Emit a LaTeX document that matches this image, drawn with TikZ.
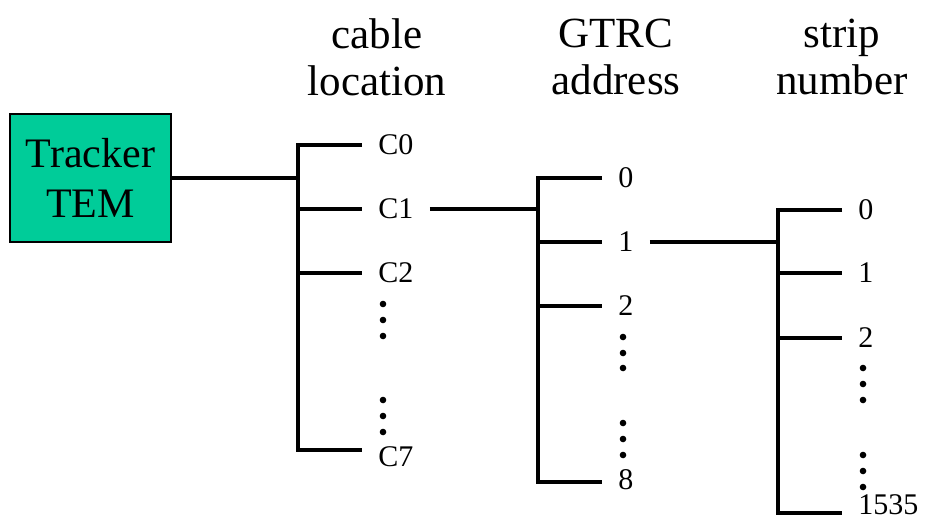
\documentclass[tikz,border=0pt]{standalone}
\usepackage{fontspec}
\setmainfont{Liberation Serif}
\usepackage{xcolor}
\usepackage{tikz}
\definecolor{temgreen}{HTML}{00CC99}

\tikzset{
  wire/.style={line width=1.6pt},
  lab/.style={anchor=west,inner xsep=8pt,inner ysep=0pt,font=\fontsize{15}{18}\selectfont},
  head/.style={align=center,inner sep=0pt,font=\fontsize{21.5}{23.5}\selectfont},
  dotmark/.style={fill=black}
}

\begin{document}
\begin{tikzpicture}[x=0.5pt,y=-0.5pt]
  \useasboundingbox (0,0) rectangle (925,525);

  % column headings
  \node[head] (hcable) at (377,57) {cable\\location};
  \node[head] (hgtrc)  at (616,57) {GTRC\\address};
  \node[head] (hstrip) at (842,57) {strip\\number};

  \node[draw=black,line width=0.7pt,fill=temgreen,minimum width=80.5pt,minimum height=64pt,
        align=center,font=\fontsize{21}{25}\selectfont] (tem) at (90.5,178) {Tracker\\TEM};

  % trunk positions
  \coordinate (tr1) at (298,0);
  \coordinate (tr2) at (538,0);
  \coordinate (tr3) at (778,0);
  \coordinate (cbot) at (298,450);
  \coordinate (gbot) at (538,482);
  \coordinate (sbot) at (778,513);

  % cable location
  \node[lab] (c0) at (362,145) {C0};
  \node[lab] (c1) at (362,209) {C1};
  \node[lab] (c2) at (362,273) {C2};
  \node[lab] (c7) at (362,457) {C7};
  % GTRC address
  \node[lab] (g0) at (602,178) {0};
  \node[lab] (g1) at (602,242) {1};
  \node[lab] (g2) at (602,306) {2};
  \node[lab] (g8) at (602,480) {8};
  % strip number
  \node[lab] (s0) at (842,210) {0};
  \node[lab] (s1) at (842,273) {1};
  \node[lab] (s2) at (842,338) {2};
  \node[lab] (s1535) at (842,505) {1535};

  \draw[wire] (c0.west) -- (tr1 |- c0.west) -- (cbot) -- (cbot -| c7.west);
  \draw[wire] (tr1 |- c1.west) -- (c1.west);
  \draw[wire] (tr1 |- c2.west) -- (c2.west);

  \draw[wire] (g0.west) -- (tr2 |- g0.west) -- (gbot) -- (gbot -| g8.west);
  \draw[wire] (tr2 |- g1.west) -- (g1.west);
  \draw[wire] (tr2 |- g2.west) -- (g2.west);

  \draw[wire] (s0.west) -- (tr3 |- s0.west) -- (sbot) -- (sbot -| s1535.west);
  \draw[wire] (tr3 |- s1.west) -- (s1.west);
  \draw[wire] (tr3 |- s2.west) -- (s2.west);

  % links between levels
  \draw[wire] (tem.east) -- (tr1 |- tem.east);
  \draw[wire] (c1.east) -- (tr2 |- c1.east);
  \draw[wire] (g1.east) -- (tr3 |- g1.east);

  % vertical dots
  \foreach \y in {304,320,336,400,416,432}
    \fill[dotmark] (383,\y) circle[radius=1.65pt];
  \foreach \y in {337,353,368,423,439,455}
    \fill[dotmark] (623,\y) circle[radius=1.65pt];
  \foreach \y in {368,384,400,455,471,487}
    \fill[dotmark] (863,\y) circle[radius=1.65pt];
\end{tikzpicture}
\end{document}
